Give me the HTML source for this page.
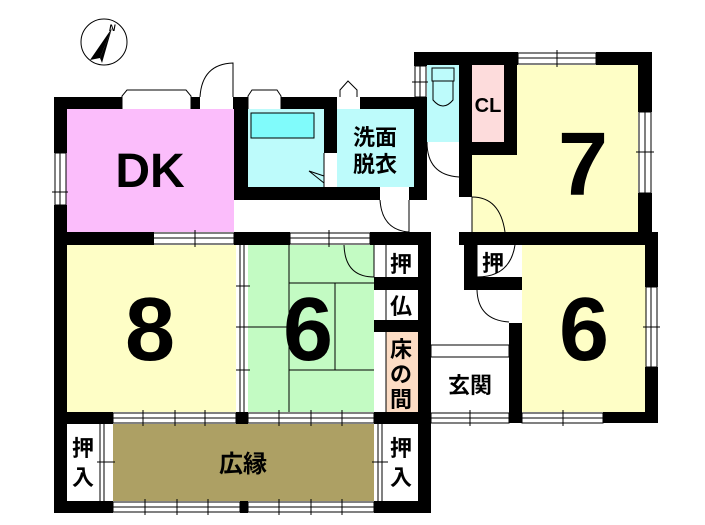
<!DOCTYPE html>
<html><head><meta charset="utf-8"><style>
html,body{margin:0;padding:0;background:#fff;}
svg{display:block;}
text{font-family:"Liberation Sans","Noto Sans CJK JP",sans-serif;font-weight:bold;fill:#000;}
</style></head><body>
<svg width="705" height="525" viewBox="0 0 705 525" xmlns="http://www.w3.org/2000/svg">
<rect width="705" height="525" fill="#fff"/>
<circle cx="104" cy="42" r="23" fill="none" stroke="#000" stroke-width="1"/>
<polygon points="112,28 90,60 100,58" fill="#000"/>
<polygon points="112,28 100,58 102,63" fill="#000"/>
<text x="109" y="31" font-size="9" font-style="italic">N</text>

<rect x="66" y="109" width="168" height="123" fill="#fbbdfb"/>
<rect x="247" y="109" width="77" height="78" fill="#bdfbfb"/>
<rect x="251" y="113" width="63" height="25" fill="#80fbfb" stroke="#000" stroke-width="1"/>
<rect x="337" y="109" width="77" height="78" fill="#bdfbfb"/>
<rect x="427" y="65" width="32" height="77" fill="#bdfbfb"/>
<rect x="472" y="65" width="166" height="167" fill="#fefec6"/>
<rect x="472" y="65" width="32" height="77" fill="#fddcdc"/>
<rect x="66" y="245" width="170" height="167" fill="#fefec6"/>
<rect x="248" y="245" width="126" height="167" fill="#c3fbc3"/>
<rect x="386" y="332" width="32" height="80" fill="#fcdcc4"/>
<rect x="522" y="245" width="124" height="167" fill="#fefec6"/>
<rect x="113" y="424" width="261" height="77" fill="#ada064"/>

<g stroke="#000" stroke-width="1" fill="none">
<line x1="289" y1="245" x2="289" y2="412"/>
<line x1="289" y1="283" x2="374" y2="283"/>
<line x1="335" y1="283" x2="335" y2="370"/>
<line x1="248" y1="327" x2="289" y2="327"/>
<line x1="289" y1="370" x2="374" y2="370"/>
<rect x="432" y="68" width="22" height="13"/>
<path d="M433,81 L433,100 Q443,112 453,100 L453,81"/>
<rect x="431" y="345" width="78" height="12"/>
<line x1="386" y1="245" x2="386" y2="412"/>
<line x1="100" y1="424" x2="100" y2="501"/>
<line x1="104" y1="424" x2="104" y2="501"/>
<line x1="378" y1="424" x2="378" y2="501"/>
<line x1="382" y1="424" x2="382" y2="501"/>
<line x1="240" y1="245" x2="240" y2="412"/>
<line x1="244" y1="245" x2="244" y2="412"/>
</g>

<g fill="#000">
<rect x="54" y="97" width="68" height="12"/>
<rect x="191" y="97" width="9" height="12"/>
<rect x="233" y="97" width="15" height="12"/>
<rect x="281" y="97" width="56" height="12"/>
<rect x="360" y="97" width="67" height="12"/>
<rect x="54" y="97" width="13" height="56"/>
<rect x="54" y="205" width="13" height="308"/>
<rect x="234" y="97" width="14" height="103"/>
<rect x="234" y="187" width="146" height="13"/>
<rect x="409" y="187" width="18" height="13"/>
<rect x="324" y="97" width="13" height="56"/>
<rect x="414" y="52" width="13" height="14"/>
<rect x="414" y="97" width="13" height="103"/>
<rect x="414" y="52" width="104" height="13"/>
<rect x="596" y="52" width="56" height="13"/>
<rect x="459" y="52" width="13" height="145"/>
<rect x="504" y="52" width="13" height="103"/>
<rect x="459" y="142" width="58" height="13"/>
<rect x="638" y="52" width="14" height="60"/>
<rect x="638" y="193" width="14" height="52"/>
<rect x="459" y="232" width="199" height="13"/>
<rect x="54" y="232" width="100" height="13"/>
<rect x="234" y="232" width="56" height="13"/>
<rect x="370" y="232" width="61" height="13"/>
<rect x="418" y="232" width="13" height="281"/>
<rect x="374" y="277" width="57" height="13"/>
<rect x="374" y="320" width="57" height="12"/>
<rect x="464" y="232" width="13" height="58"/>
<rect x="464" y="277" width="58" height="13"/>
<rect x="509" y="277" width="13" height="13"/>
<rect x="509" y="323" width="13" height="100"/>
<rect x="645" y="232" width="13" height="55"/>
<rect x="645" y="367" width="13" height="56"/>
<rect x="603" y="412" width="55" height="11"/>
<rect x="54" y="412" width="59" height="12"/>
<rect x="236" y="412" width="12" height="12"/>
<rect x="374" y="412" width="57" height="12"/>
<rect x="54" y="501" width="59" height="12"/>
<rect x="240" y="501" width="8" height="12"/>
<rect x="374" y="501" width="57" height="12"/>
</g>

<g stroke="#000" stroke-width="1" fill="none">
<path d="M122,109 L122,96 L127,90 L186,90 L191,96 L191,109"/>
<path d="M248,109 L248,96 L252,90 L277,90 L281,96 L281,109"/>
<path d="M340,97 L340,90 L348,81 L357,90 L357,97"/>
<path d="M233,97 L233,63 Q202,64 200,97"/>
<rect x="113" y="233" width="121" height="11"/><line x1="113" y1="238" x2="234" y2="238"/><line x1="195" y1="230" x2="195" y2="247"/>
<rect x="290" y="233" width="80" height="11"/><line x1="290" y1="238" x2="370" y2="238"/><line x1="329" y1="230" x2="329" y2="247"/>
<rect x="55" y="153" width="11" height="52"/><line x1="60" y1="153" x2="60" y2="205"/><line x1="52" y1="192" x2="68" y2="192"/>
<rect x="518" y="53" width="78" height="11"/><line x1="518" y1="58" x2="596" y2="58"/><line x1="557" y1="50" x2="557" y2="67"/>
<rect x="415" y="66" width="11" height="31"/><line x1="420" y1="66" x2="420" y2="97"/><line x1="412" y1="82" x2="428" y2="82"/>
<rect x="639" y="112" width="12" height="81"/><line x1="645" y1="112" x2="645" y2="193"/><line x1="636" y1="152" x2="654" y2="152"/>
<rect x="646" y="287" width="11" height="80"/><line x1="651" y1="287" x2="651" y2="367"/><line x1="643" y1="327" x2="660" y2="327"/>
<rect x="113" y="413" width="123" height="10"/><line x1="113" y1="418" x2="236" y2="418"/>
<line x1="143" y1="410" x2="143" y2="426"/><line x1="175" y1="410" x2="175" y2="426"/><line x1="205" y1="410" x2="205" y2="426"/>
<rect x="248" y="413" width="126" height="10"/><line x1="248" y1="418" x2="374" y2="418"/>
<line x1="279" y1="410" x2="279" y2="426"/><line x1="311" y1="410" x2="311" y2="426"/><line x1="342" y1="410" x2="342" y2="426"/>
<rect x="431" y="413" width="78" height="10"/><line x1="431" y1="418" x2="509" y2="418"/><line x1="470" y1="410" x2="470" y2="426"/>
<rect x="522" y="413" width="81" height="10"/><line x1="522" y1="418" x2="603" y2="418"/><line x1="563" y1="410" x2="563" y2="426"/>
<rect x="113" y="502" width="127" height="10"/><line x1="113" y1="507" x2="240" y2="507"/>
<line x1="145" y1="499" x2="145" y2="515"/><line x1="177" y1="499" x2="177" y2="515"/><line x1="208" y1="499" x2="208" y2="515"/>
<rect x="248" y="502" width="126" height="10"/><line x1="248" y1="507" x2="374" y2="507"/>
<line x1="279" y1="499" x2="279" y2="515"/><line x1="311" y1="499" x2="311" y2="515"/><line x1="342" y1="499" x2="342" y2="515"/>
<line x1="236" y1="286" x2="250" y2="286"/><line x1="236" y1="327" x2="250" y2="327"/><line x1="236" y1="370" x2="250" y2="370"/>
<line x1="97" y1="462" x2="115" y2="462"/><line x1="372" y1="462" x2="388" y2="462"/>
<path d="M380,200 Q382,230 409,232"/><line x1="409" y1="200" x2="409" y2="232"/>
<path d="M427,142 Q427,175 459,177"/>
<path d="M472,197 Q500,197 505,232"/><line x1="472" y1="197" x2="472" y2="232"/>
<path d="M374,245 L374,277 M374,277 Q345,277 344,245"/>
<path d="M477,245 L477,277 Q510,277 515,245"/>
<path d="M477,290 Q478,320 509,322"/>
<path d="M324,153 L324,187 M324,176 L309,171 L324,183"/>
</g>

<text x="150" y="187" font-size="48" text-anchor="middle">DK</text>
<text x="375" y="145" font-size="22" text-anchor="middle">洗面</text>
<text x="375" y="172" font-size="22" text-anchor="middle">脱衣</text>
<text x="488" y="112" font-size="20" text-anchor="middle" font-weight="normal">CL</text>
<text x="583" y="195" font-size="90" text-anchor="middle">7</text>
<text x="150" y="360" font-size="90" text-anchor="middle">8</text>
<text x="308" y="360" font-size="90" text-anchor="middle">6</text>
<text x="584" y="360" font-size="90" text-anchor="middle">6</text>
<text x="401" y="272" font-size="22" text-anchor="middle">押</text>
<text x="401" y="314" font-size="22" text-anchor="middle">仏</text>
<text x="401" y="357" font-size="22" text-anchor="middle">床</text>
<text x="401" y="382" font-size="22" text-anchor="middle">の</text>
<text x="401" y="407" font-size="22" text-anchor="middle">間</text>
<text x="493" y="271" font-size="22" text-anchor="middle">押</text>
<text x="470" y="393" font-size="22" text-anchor="middle">玄関</text>
<text x="243" y="472" font-size="24" text-anchor="middle">広縁</text>
<text x="83" y="456" font-size="22" text-anchor="middle">押</text>
<text x="83" y="485" font-size="22" text-anchor="middle">入</text>
<text x="401" y="456" font-size="22" text-anchor="middle">押</text>
<text x="401" y="485" font-size="22" text-anchor="middle">入</text>
</svg>
</body></html>
